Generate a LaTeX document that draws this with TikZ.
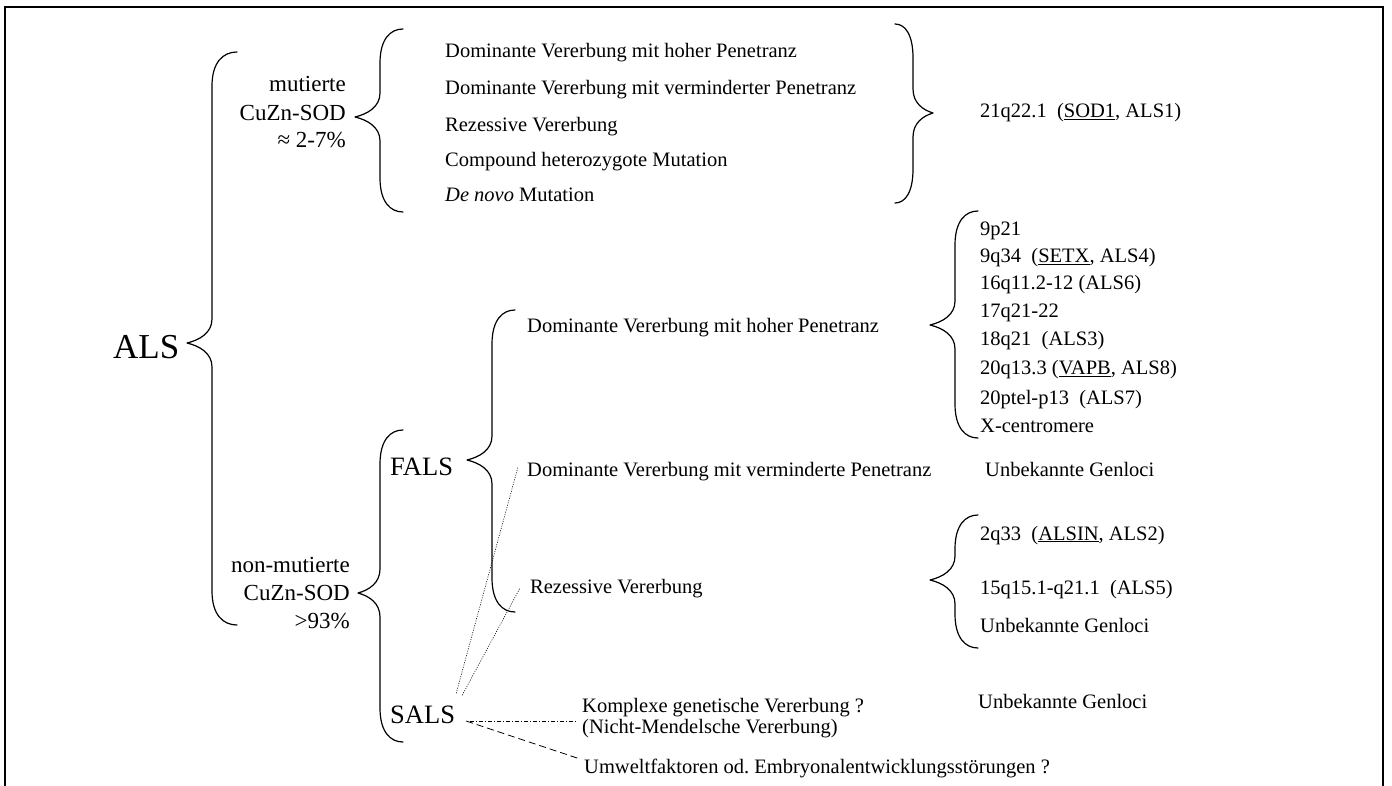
\documentclass[tikz,border=0pt]{standalone}
\usepackage{fontspec}
\setmainfont{Liberation Serif}
\usetikzlibrary{calc}
\frenchspacing
\tikzset{
  brc/.style={line width=1.2pt, line cap=round, line join=round},
  sm/.style={inner sep=0pt, anchor=base west, font=\fontsize{20.5}{24}\selectfont},
  md/.style={inner sep=0pt, anchor=base east, font=\fontsize{23}{28}\selectfont},
  lg/.style={inner sep=0pt, anchor=base west, font=\fontsize{26.5}{30}\selectfont},
  xl/.style={inner sep=0pt, anchor=base west, font=\fontsize{35}{40}\selectfont},
  dotline/.style={line width=0.6pt, dash pattern=on 1pt off 1.4pt},
  dashdotline/.style={line width=0.7pt, dash pattern=on 4pt off 2pt on 1pt off 2pt},
  dashline/.style={line width=0.8pt, dash pattern=on 7pt off 4pt},
}
% xe xs xt yt ym yb
\newcommand\curlybr[6]{%
  \draw[brc] (#1,#4) .. controls (#2*0.55+#1*0.45,#4) and (#2,#4+10) .. (#2,#4+34) -- (#2,#5-24)
    .. controls (#2,#5-10) and (#2*0.5+#3*0.5,#5-3) .. (#3,#5)
    .. controls (#2*0.5+#3*0.5,#5+3) and (#2,#5+10) .. (#2,#5+24)
    -- (#2,#6-34) .. controls (#2,#6-10) and (#2*0.55+#1*0.45,#6) .. (#1,#6);}
\begin{document}
\begin{tikzpicture}[x=1pt,y=-1pt]
\useasboundingbox (0,0) rectangle (1392,786);
\draw[line width=1.4pt] (5,792) -- (5,7) -- (1383,7) -- (1383,792);

% root
\node[xl] (als) at (113,358) {ALS};
\curlybr{237}{212}{187}{52}{343}{625}

% mutierte branch
\node[md] (mut1) at (346,91.7) {mutierte};
\node[md] (mut2) at (346,120.7) {CuZn-SOD};
\node[md] (mut3) at (346,148) {≈ 2-7\%};
\curlybr{403}{380}{355}{29}{117}{212}
\node[sm] (m1) at (445,58) {Dominante Vererbung mit hoher Penetranz};
\node[sm] (m2) at (445,95) {Dominante Vererbung mit verminderter Penetranz};
\node[sm] (m3) at (445,131.5) {Rezessive Vererbung};
\node[sm] (m4) at (445,166.5) {Compound heterozygote Mutation};
\node[sm] (m5) at (445,201.5) {\textit{De novo} Mutation};
\curlybr{895}{913}{933}{24}{113}{203}
\node[sm] (sod) at (980,118) {21q22.1~~(\underline{SOD1}, ALS1)};

% non-mutierte branch
\node[md] (non1) at (350,572) {non-mutierte};
\node[md] (non2) at (350,600) {CuZn-SOD};
\node[md] (non3) at (350,628) {>93\%};
\curlybr{403}{380}{358}{430}{593}{742}
\node[lg] (fals) at (390,475) {FALS};
\node[lg] (sals) at (390,723) {SALS};

% FALS
\curlybr{515}{492}{467}{310}{460}{612}
\node[sm] (dhp) at (527,332) {Dominante Vererbung mit hoher Penetranz};
\node[sm] (dvp) at (527,476) {Dominante Vererbung mit verminderte Penetranz};
\node[sm] (rez) at (530,593) {Rezessive Vererbung};

\curlybr{978}{955}{930}{211}{325}{438}
\node[sm] (l1) at (980,236) {9p21};
\node[sm] (l2) at (980,263) {9q34~~(\underline{SETX}, ALS4)};
\node[sm] (l3) at (980,290) {16q11.2-12 (ALS6)};
\node[sm] (l4) at (980,317) {17q21-22};
\node[sm] (l5) at (980,345) {18q21~~(ALS3)};
\node[sm] (l6) at (980,374) {20q13.3 (\underline{VAPB}, ALS8)};
\node[sm] (l7) at (980,404) {20ptel-p13~~(ALS7)};
\node[sm] (l8) at (980,432) {X-centromere};

\node[sm] (ug1) at (985,476) {Unbekannte Genloci};

\curlybr{978}{955}{930}{515}{580}{648}
\node[sm] (r1) at (980,540) {2q33~~(\underline{ALSIN}, ALS2)};
\node[sm] (r2) at (980,594) {15q15.1-q21.1~~(ALS5)};
\node[sm] (r3) at (980,632) {Unbekannte Genloci};

% SALS
\node[sm] (kom) at (582,712) {Komplexe genetische Vererbung ?};
\node[sm] (nicht) at (582,733) {(Nicht-Mendelsche Vererbung)};
\node[sm] (umw) at (584,773) {Umweltfaktoren od. Embryonalentwicklungsstörungen ?};
\node[sm] (ug2) at (978,708) {Unbekannte Genloci};

\draw[dotline] ($(sals.north east)+(1,-12)$) -- ($(dvp.base west)+(-9,-9)$);
\draw[dotline] ($(sals.north east)+(7,-10)$) -- ($(rez.base west)+(-10,-5)$);
\draw[dashdotline] ($(sals.base east)+(15,-2)$) -- ($(kom.base west)+(-5,9)$);
\draw[dashline] ($(sals.base east)+(11,-2)$) -- ($(umw.base west)+(-4,-14)$);
\end{tikzpicture}
\end{document}
